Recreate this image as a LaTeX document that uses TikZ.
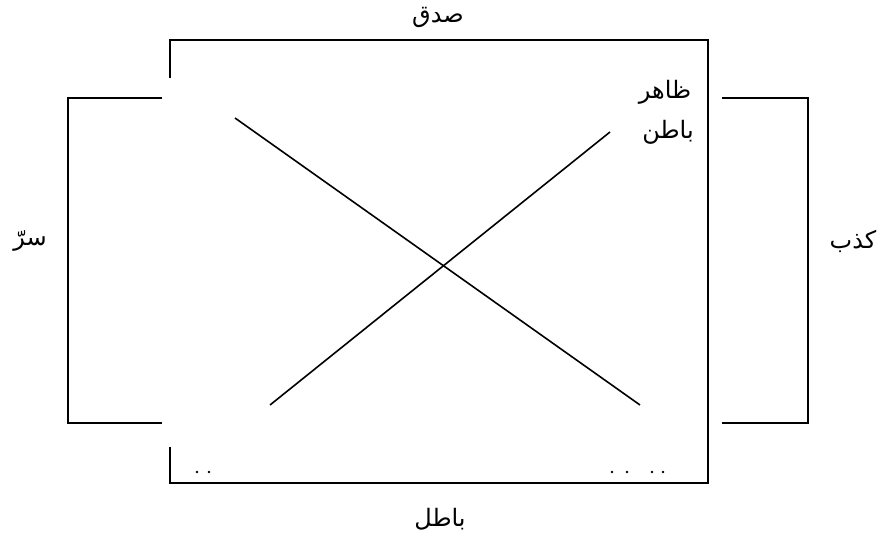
\documentclass[tikz,border=0pt]{standalone}
\usepackage{fontspec}
\newfontfamily\arabicfont[Script=Arabic]{DejaVu Sans}
\TeXXeTstate=1

\tikzset{etq/.style={font=\arabicfont\fontsize{18}{21}\selectfont, inner sep=0pt}}

\begin{document}
\begin{tikzpicture}[x=0.75pt, y=-0.75pt, line width=1.2pt]
  \useasboundingbox (0,0) rectangle (880,538);
  \draw (170,78) -- (170,40) -- (708,40) -- (708,483) -- (170,483) -- (170,447);  \node[etq] (sidq) at (438,17) {\beginR صدق\endR};
  \draw (162,98) -- (68,98) -- (68,423) -- (162,423);                              \node[etq] (sirr) at (30,241) {\beginR سرّ\endR};
  \draw (722,98) -- (808,98) -- (808,423) -- (722,423);                            \node[etq] (kidhb) at (853,241) {\beginR كذب\endR};
  \draw (235,118) -- (640,405);                                                    \node[etq] (zahir) at (665,92) {\beginR ظاهر\endR};
  \draw (270,405) -- (610,132);                                                    \node[etq] (batin) at (668,132) {\beginR باطن\endR};
  \node[etq] (batil) at (440,519) {\beginR باطل\endR};
  \foreach \x in {197,209,612,627,652,663} \fill (\x,472) circle (1pt);
\end{tikzpicture}
\end{document}
